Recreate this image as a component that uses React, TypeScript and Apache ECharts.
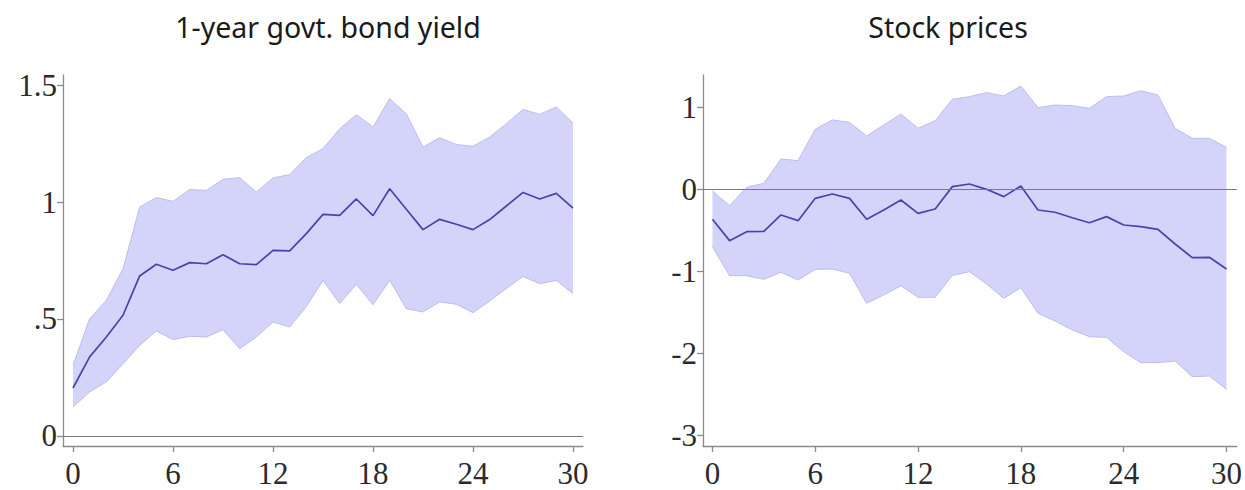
import React, { useEffect, useRef } from "react";
import * as echarts from "echarts";

const horizons = [0, 1, 2, 3, 4, 5, 6, 7, 8, 9, 10, 11, 12, 13, 14, 15, 16, 17, 18, 19, 20, 21, 22, 23, 24, 25, 26, 27, 28, 29, 30];
const xTicks = [0, 6, 12, 18, 24, 30];

const bondTitle = "1-year govt. bond yield";
const bondTicks = [0, 0.5, 1, 1.5];
const bondMedian = [0.205, 0.338, 0.423, 0.516, 0.684, 0.734, 0.708, 0.741, 0.736, 0.775, 0.736, 0.732, 0.793, 0.791, 0.865, 0.947, 0.943, 1.013, 0.942, 1.057, 0.969, 0.882, 0.926, 0.905, 0.882, 0.925, 0.983, 1.041, 1.013, 1.037, 0.974];
const bondUpper = [0.302, 0.501, 0.58, 0.715, 0.979, 1.019, 1.003, 1.053, 1.05, 1.097, 1.104, 1.043, 1.103, 1.117, 1.19, 1.228, 1.313, 1.373, 1.321, 1.442, 1.377, 1.235, 1.275, 1.246, 1.238, 1.278, 1.335, 1.396, 1.375, 1.406, 1.338];
const bondLower = [0.124, 0.188, 0.231, 0.309, 0.387, 0.449, 0.412, 0.426, 0.423, 0.454, 0.373, 0.423, 0.487, 0.466, 0.553, 0.665, 0.566, 0.648, 0.561, 0.665, 0.544, 0.53, 0.573, 0.563, 0.527, 0.577, 0.63, 0.682, 0.651, 0.665, 0.608];

const stockTitle = "Stock prices";
const stockTicks = [-3, -2, -1, 0, 1];
const stockMedian = [-0.366, -0.626, -0.516, -0.512, -0.313, -0.382, -0.11, -0.057, -0.11, -0.366, -0.252, -0.13, -0.293, -0.24, 0.033, 0.065, 0.0, -0.089, 0.041, -0.252, -0.28, -0.346, -0.407, -0.333, -0.435, -0.455, -0.488, -0.667, -0.833, -0.829, -0.972];
const stockUpper = [-0.02, -0.199, 0.024, 0.073, 0.37, 0.35, 0.732, 0.846, 0.817, 0.65, 0.785, 0.919, 0.744, 0.837, 1.098, 1.13, 1.179, 1.138, 1.26, 0.996, 1.028, 1.02, 0.988, 1.13, 1.138, 1.203, 1.15, 0.744, 0.622, 0.622, 0.512];
const stockLower = [-0.699, -1.053, -1.053, -1.098, -1.012, -1.106, -0.976, -0.972, -1.024, -1.39, -1.289, -1.175, -1.317, -1.317, -1.05, -1.004, -1.154, -1.329, -1.199, -1.512, -1.606, -1.715, -1.797, -1.805, -1.98, -2.114, -2.114, -2.093, -2.285, -2.276, -2.439];

const BAND_FILL = "#d4d4fa";
const BAND_EDGE = "#bcbcee";
const MEDIAN = "#4643b0";
const AXIS = "#8a8a8a";
const LABEL = "#2b2b2b";
const SERIF = "'Liberation Serif', 'Times New Roman', serif";
const SANS = "'Noto Sans', sans-serif";

function fmtBond(v: number) {
  if (v === 0) return "0";
  if (v === 0.5) return ".5";
  return String(v);
}

function pairs(vals: number[]) {
  return horizons.map((h, i) => [h, vals[i]]);
}

export default function App() {
  const ref = useRef<HTMLDivElement>(null);

  useEffect(() => {
    if (!ref.current) return;
    const chart = echarts.init(ref.current, undefined, { renderer: "svg" });

    const xAxisBase = (gridIndex: number, min: number, max: number) => ({
      type: "value",
      gridIndex,
      min,
      max,
      axisLine: { show: true, onZero: false, lineStyle: { color: AXIS, width: 1.3 } },
      axisTick: { show: true, length: 6, customValues: xTicks, lineStyle: { color: AXIS, width: 1.3 } },
      axisLabel: { show: true, customValues: xTicks, margin: 14, lineHeight: 26, fontFamily: SERIF, fontSize: 31, color: LABEL },
      splitLine: { show: false },
    });

    const yAxisBase = (gridIndex: number, min: number, max: number, ticks: number[], fmt: (v: number) => string) => ({
      type: "value",
      gridIndex,
      min,
      max,
      axisLine: { show: true, onZero: false, lineStyle: { color: AXIS, width: 1.3 } },
      axisTick: { show: true, length: 6, customValues: ticks, lineStyle: { color: AXIS, width: 1.3 } },
      axisLabel: { show: true, customValues: ticks, margin: 6, fontFamily: SERIF, fontSize: 31, color: LABEL, formatter: fmt },
      splitLine: { show: false },
    });

    const bandSeries = (idx: number, lower: number[], upper: number[], median: number[]) => [
      {
        type: "custom",
        xAxisIndex: idx,
        yAxisIndex: idx,
        data: horizons.map((h, i) => [h, lower[i], upper[i]]),
        encode: { x: 0, y: [1, 2] },
        z: 1,
        silent: true,
        renderItem: (params: any, api: any) => {
          if (params.dataIndex !== 0) return null;
          const top = horizons.map((h, i) => api.coord([h, upper[i]]));
          const bottom = horizons.map((h, i) => api.coord([h, lower[i]])).reverse();
          return {
            type: "polygon",
            shape: { points: top.concat(bottom) },
            style: { fill: BAND_FILL, stroke: "none" },
          };
        },
      },
      {
        type: "line",
        xAxisIndex: idx,
        yAxisIndex: idx,
        data: pairs(upper),
        symbol: "none",
        silent: true,
        lineStyle: { color: BAND_EDGE, width: 1 },
        z: 2,
      },
      {
        type: "line",
        xAxisIndex: idx,
        yAxisIndex: idx,
        data: pairs(lower),
        symbol: "none",
        silent: true,
        lineStyle: { color: BAND_EDGE, width: 1 },
        z: 2,
      },
      {
        type: "line",
        xAxisIndex: idx,
        yAxisIndex: idx,
        data: pairs(median),
        symbol: "none",
        lineStyle: { color: MEDIAN, width: 1.7 },
        z: 4,
        markLine: {
          silent: true,
          symbol: "none",
          label: { show: false },
          lineStyle: { color: "#7a7a7a", type: "solid", width: 1.2 },
          data: [{ yAxis: 0 }],
        },
      },
    ];

    chart.setOption({
      animation: false,
      backgroundColor: "#ffffff",
      title: [
        {
          text: bondTitle,
          left: 323,
          top: 7,
          textAlign: "center",
          textStyle: { fontFamily: SANS, fontSize: 28.5, fontWeight: "normal", color: "#1a1a1a" },
        },
        {
          text: stockTitle,
          left: 943,
          top: 7,
          textAlign: "center",
          textStyle: { fontFamily: SANS, fontSize: 28.5, fontWeight: "normal", color: "#1a1a1a" },
        },
      ],
      grid: [
        { left: 63, top: 75, width: 520, height: 371 },
        { left: 703, top: 75, width: 534, height: 371 },
      ],
      xAxis: [xAxisBase(0, -0.6, 30.6), xAxisBase(1, -0.55, 30.6)],
      yAxis: [
        yAxisBase(0, -0.043, 1.543, bondTicks, fmtBond),
        yAxisBase(1, -3.13, 1.394, stockTicks, (v: number) => String(v)),
      ],
      series: [
        ...bandSeries(0, bondLower, bondUpper, bondMedian),
        ...bandSeries(1, stockLower, stockUpper, stockMedian),
      ],
    });

    return () => chart.dispose();
  }, []);

  return (
    <div
      ref={ref}
      style={{ position: "fixed", left: 0, top: 0, width: 1245, height: 490, background: "#fff" }}
    />
  );
}
